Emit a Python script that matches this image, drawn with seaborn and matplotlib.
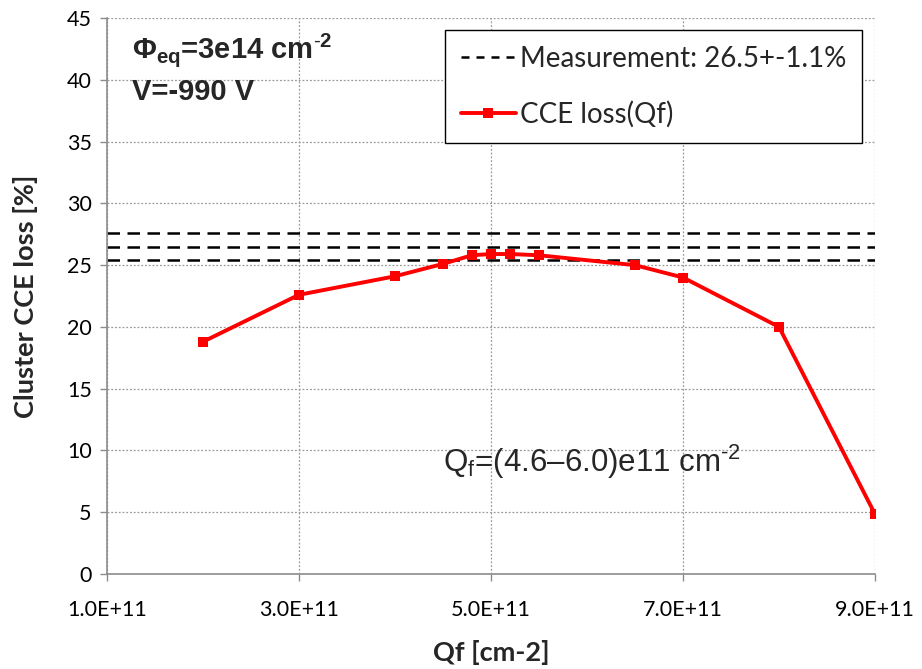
import matplotlib
matplotlib.use("Agg")
import matplotlib.pyplot as plt
from matplotlib.lines import Line2D
from matplotlib.ticker import FuncFormatter, MultipleLocator
import numpy as np
import pandas as pd
import seaborn as sns

# Simulated cluster CCE loss as a function of the interface charge Qf
qf_values = [2.0e11, 3.0e11, 4.0e11, 4.5e11, 4.8e11, 5.0e11, 5.2e11, 5.5e11,
             6.5e11, 7.0e11, 8.0e11, 9.0e11]
cce_loss = [18.8, 22.6, 24.1, 25.1, 25.8, 25.9, 25.9, 25.8,
            25.0, 24.0, 20.0, 4.85]

# Measured value with its uncertainty band
meas_value = 26.5
meas_error = 1.1

x_ticks = [1.0e11, 3.0e11, 5.0e11, 7.0e11, 9.0e11]

df = pd.DataFrame({"Qf": qf_values, "loss": cce_loss})

sns.set_theme(style="white")
plt.rcParams["font.family"] = ["Lato", "DejaVu Sans"]
plt.rcParams["axes.unicode_minus"] = False
plt.rcParams["mathtext.fontset"] = "custom"
plt.rcParams["mathtext.rm"] = "Liberation Sans"
plt.rcParams["mathtext.bf"] = "Liberation Sans:bold"

fig = plt.figure(figsize=(9.22, 6.69), dpi=100)
ax = fig.add_axes([0.116, 0.142, 0.833, 0.831])

# measurement lines: central value and +/- error
for yv in (meas_value + meas_error, meas_value, meas_value - meas_error):
    ax.axhline(yv, color="black", lw=1.8, ls=(0, (5, 3)), zorder=2)

sns.lineplot(data=df, x="Qf", y="loss", ax=ax, color="#ff0000", lw=2.8,
             marker="s", markersize=6.5, markeredgewidth=0, zorder=3)

ax.set_xlim(1.0e11, 9.0e11)
ax.set_ylim(0, 45)
ax.set_xticks(x_ticks)
ax.yaxis.set_major_locator(MultipleLocator(5))
ax.xaxis.set_major_formatter(FuncFormatter(lambda v, p: f"{v:.1E}"))

ax.grid(True, color="#9a9a9a", ls=(0, (1.5, 1.5)), lw=0.9)
for s in ("top", "right"):
    ax.spines[s].set_visible(False)
for s in ("left", "bottom"):
    ax.spines[s].set_color("#8c8c8c")
    ax.spines[s].set_linewidth(1.2)

ax.tick_params(axis="both", which="major", labelsize=15.5, colors="black",
               length=5, width=1, direction="out", bottom=True, left=True)
ax.tick_params(axis="x", pad=14, color="#8c8c8c")
ax.tick_params(axis="y", pad=6, color="#8c8c8c")

ax.set_xlabel("Qf [cm-2]", fontsize=19.5, fontweight="bold", labelpad=14)
ax.set_ylabel("Cluster CCE loss [%]", fontsize=19.5, fontweight="bold", labelpad=21)

ax.text(0.032, 0.928,
        r"$\mathbf{\Phi}$$_{\mathregular{eq}}$=3e14 cm$^{\mathbf{\text{-}2}}$",
        transform=ax.transAxes, fontsize=21, fontweight="bold",
        family="Liberation Sans", va="baseline", ha="left")
ax.text(0.032, 0.853, "V=-990 V", transform=ax.transAxes, fontsize=21,
        fontweight="bold", family="Liberation Sans", va="baseline", ha="left")

ax.text(4.5e11, 8.25,
        r"Q$_{\mathregular{f}}$=(4.6–6.0)e11 cm$^{\text{-}\mathregular{2}}$",
        fontsize=22.5, family="Liberation Sans", va="baseline", ha="left")

handles = [
    Line2D([], [], color="black", lw=1.8, ls=(0, (3.2, 2.8))),
    Line2D([], [], color="#ff0000", lw=2.8, marker="s", markersize=6.5,
           markeredgewidth=0),
]
labels = [f"Measurement: {meas_value}+-{meas_error}%", "CCE loss(Qf)"]
leg = ax.legend(handles, labels, loc="upper right", bbox_to_anchor=(0.983, 0.978),
                fontsize=20, frameon=True, fancybox=False, handlelength=2.0,
                handletextpad=0.15, labelspacing=1.05, borderpad=0.55,
                borderaxespad=0)
leg.get_frame().set_edgecolor("black")
leg.get_frame().set_linewidth(1.0)
leg.get_frame().set_facecolor("white")
leg.get_frame().set_alpha(1)

fig.savefig("out.png", dpi=100)
